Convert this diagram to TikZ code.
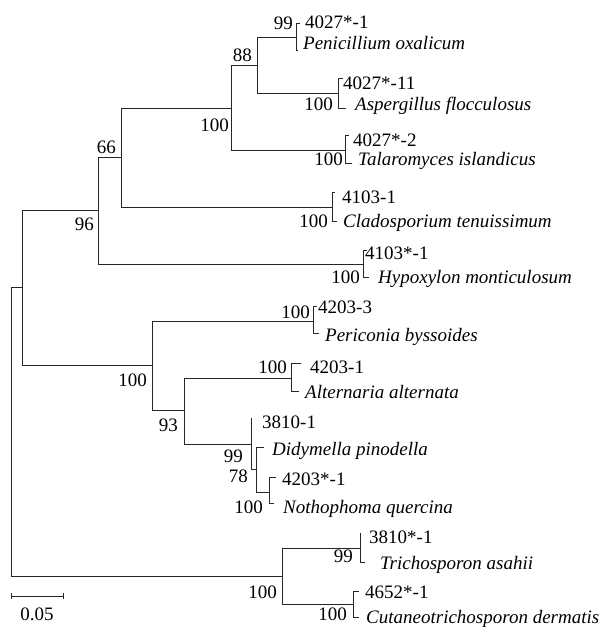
\documentclass[tikz,border=0pt]{standalone}
\usepackage{fontspec}
\setmainfont{Liberation Serif}
\usetikzlibrary{positioning}

\tikzset{
  branch/.style={draw=black!85,line width=1pt,line cap=rect},
  boot/.style={font=\fontsize{19}{19}\selectfont,inner sep=0pt,anchor=base east},
  taxon/.style={font=\fontsize{19}{19}\selectfont,inner sep=0pt,anchor=base west},
}

\begin{document}
\begin{tikzpicture}[x=1pt,y=-1pt,line join=miter]
\path[use as bounding box] (0,0) rectangle (601,627);
% internal nodes
\coordinate (root) at (11,431);
\coordinate (asc) at (22,287);
\coordinate (n96) at (98,210);
\coordinate (n66) at (121,157);
\coordinate (n100a) at (231,108);
\coordinate (n88) at (257,65);
\coordinate (n99a) at (296,37);
\coordinate (n100b) at (338,93);
\coordinate (n100c) at (345,150);
\coordinate (n100d) at (332,207);
\coordinate (n100e) at (363,264);
\coordinate (n100f) at (152,365);
\coordinate (n100g) at (313,321);
\coordinate (n93) at (184,410);
\coordinate (n100h) at (291,378);
\coordinate (n99b) at (251,444);
\coordinate (n78) at (256,469);
\coordinate (n100i) at (269,492);
\coordinate (bas) at (282,576);
\coordinate (n99c) at (360,548);
\coordinate (n100j) at (353,604);
% tips
\coordinate (t1) at (299,23);
\coordinate (t2) at (297,50);
\coordinate (t3) at (342,78);
\coordinate (t4) at (345,108);
\coordinate (t5) at (348,135);
\coordinate (t6) at (351,163);
\coordinate (t7) at (334,192);
\coordinate (t8) at (336,221);
\coordinate (t9) at (366,250);
\coordinate (t10) at (368,277);
\coordinate (t11) at (316,306);
\coordinate (t12) at (318,333);
\coordinate (t13) at (300,363);
\coordinate (t14) at (298,391);
\coordinate (t15) at (251,418);
\coordinate (t16) at (263,447);
\coordinate (t17) at (275,477);
\coordinate (t18) at (273,503);
\coordinate (t19) at (360,533);
\coordinate (t20) at (364,562);
\coordinate (t21) at (358,591);
\coordinate (t22) at (358,617);
% branches
\draw[branch] (root) |- (asc) (root) |- (bas);
\draw[branch] (asc) |- (n96) (asc) |- (n100f);
\draw[branch] (n96) |- (n66) (n96) |- (n100e);
\draw[branch] (n66) |- (n100a) (n66) |- (n100d);
\draw[branch] (n100a) |- (n88) (n100a) |- (n100c);
\draw[branch] (n88) |- (n99a) (n88) |- (n100b);
\draw[branch] (n99a) |- (t1) (n99a) |- (t2);
\draw[branch] (n100b) |- (t3) (n100b) |- (t4);
\draw[branch] (n100c) |- (t5) (n100c) |- (t6);
\draw[branch] (n100d) |- (t7) (n100d) |- (t8);
\draw[branch] (n100e) |- (t9) (n100e) |- (t10);
\draw[branch] (n100f) |- (n100g) (n100f) |- (n93);
\draw[branch] (n100g) |- (t11) (n100g) |- (t12);
\draw[branch] (n93) |- (n100h) (n93) |- (n99b);
\draw[branch] (n100h) |- (t13) (n100h) |- (t14);
\draw[branch] (n99b) |- (t15) (n99b) |- (n78);
\draw[branch] (n78) |- (t16) (n78) |- (n100i);
\draw[branch] (n100i) |- (t17) (n100i) |- (t18);
\draw[branch] (bas) |- (n99c) (bas) |- (n100j);
\draw[branch] (n99c) |- (t19) (n99c) |- (t20);
\draw[branch] (n100j) |- (t21) (n100j) |- (t22);
% bootstrap values
\node[boot] (b1) at (293,29) {99};
\node[boot] (b2) at (252,61) {88};
\node[boot] (b3) at (229,131) {100};
\node[boot] (b4) at (116,153) {66};
\node[boot] (b5) at (94,230) {96};
\node[boot] (b6) at (333,110) {100};
\node[boot] (b7) at (343,165) {100};
\node[boot] (b8) at (328,227) {100};
\node[boot] (b9) at (360,283) {100};
\node[boot] (b10) at (310,318) {100};
\node[boot] (b11) at (287,373) {100};
\node[boot] (b12) at (147,386) {100};
\node[boot] (b13) at (178,431) {93};
\node[boot] (b14) at (243,462) {99};
\node[boot] (b15) at (248,482) {78};
\node[boot] (b16) at (263,513) {100};
\node[boot] (b17) at (277,598) {100};
\node[boot] (b18) at (353,562) {99};
\node[boot] (b19) at (347,620) {100};
% taxa
\node[taxon] (s1) at (305,28) {4027*-1};
\node[taxon] (s2) at (303,49) {\itshape Penicillium oxalicum};
\node[taxon] (s3) at (343,89) {4027*-11};
\node[taxon] (s4) at (355,110) {\itshape Aspergillus flocculosus};
\node[taxon] (s5) at (353,146) {4027*-2};
\node[taxon] (s6) at (358,165) {\itshape Talaromyces islandicus};
\node[taxon] (s7) at (342,203) {4103-1};
\node[taxon] (s8) at (343,227) {\itshape Cladosporium tenuissimum};
\node[taxon] (s9) at (365,259) {4103*-1};
\node[taxon] (s10) at (378,283) {\itshape Hypoxylon monticulosum};
\node[taxon] (s11) at (318,313) {4203-3};
\node[taxon] (s12) at (325,341) {\itshape Periconia byssoides};
\node[taxon] (s13) at (310,373) {4203-1};
\node[taxon] (s14) at (305,398) {\itshape Alternaria alternata};
\node[taxon] (s15) at (262,428) {3810-1};
\node[taxon] (s16) at (272,455) {\itshape Didymella pinodella};
\node[taxon] (s17) at (282,485) {4203*-1};
\node[taxon] (s18) at (283,513) {\itshape Nothophoma quercina};
\node[taxon] (s19) at (369,543) {3810*-1};
\node[taxon] (s20) at (380,569) {\itshape Trichosporon asahii};
\node[taxon] (s21) at (365,598) {4652*-1};
\node[taxon] (s22) at (366,623) {\itshape Cutaneotrichosporon dermatis};
% scale bar
\coordinate (sb1) at (11,596);
\coordinate (sb2) at (63,596);
\draw[branch,line cap=butt] ([yshift=-3]sb1) -- ([yshift=3]sb1) (sb1) -- (sb2) ([yshift=-3]sb2) -- ([yshift=3]sb2);
\node[taxon,anchor=base] (sbl) at (37,620) {0.05};
\end{tikzpicture}
\end{document}
